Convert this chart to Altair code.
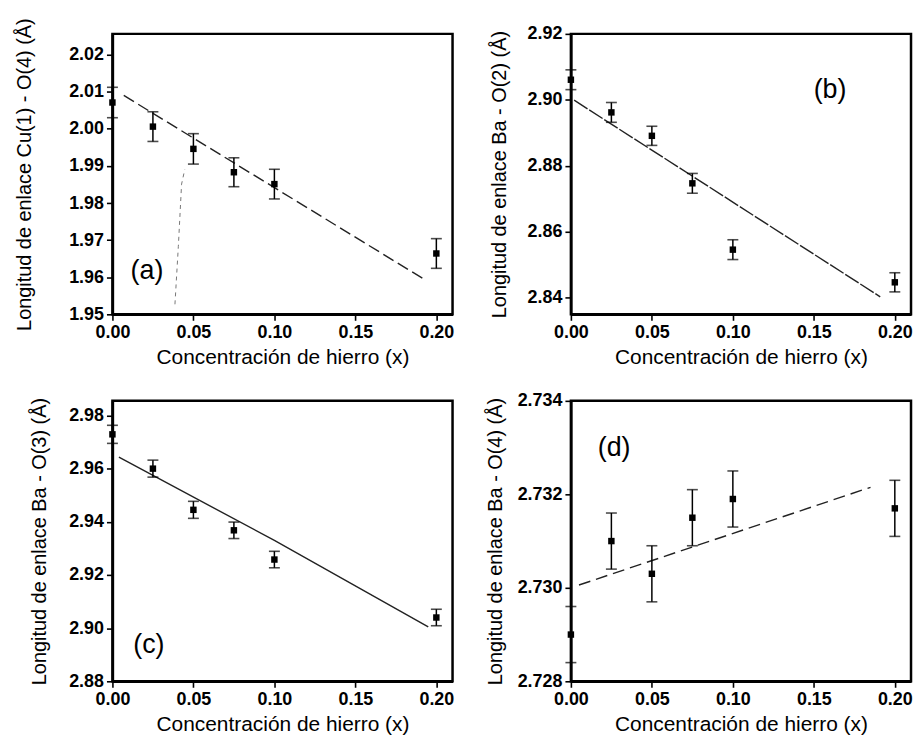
import altair as alt
import pandas as pd

# ---------------- data ----------------
conc = [0.0, 0.025, 0.05, 0.075, 0.1, 0.2]

a_val = [2.0071, 2.0006, 1.9946, 1.9883, 1.9851, 1.9664]
a_err = [0.0041, 0.0040, 0.0041, 0.0039, 0.0040, 0.0040]
b_val = [2.9061, 2.8962, 2.8891, 2.8747, 2.8546, 2.8447]
b_err = [0.0030, 0.0030, 0.0029, 0.0030, 0.0030, 0.0029]
c_val = [2.9729, 2.9600, 2.9445, 2.9368, 2.9258, 2.9040]
c_err = [0.0034, 0.0032, 0.0032, 0.0031, 0.0031, 0.0031]
d_val = [2.7290, 2.7310, 2.7303, 2.7315, 2.7319, 2.7317]
d_err = [0.0006, 0.0006, 0.0006, 0.0006, 0.0006, 0.0006]

a_fit_x = [0.007, 0.193]
a_fit_y = [2.0090, 1.9593]
b_fit_x = [0.002, 0.191]
b_fit_y = [2.8999, 2.8403]
c_fit_x = [0.004, 0.100, 0.195]
c_fit_y = [2.9643, 2.9330, 2.9005]
d_fit_x = [0.005, 0.185]
d_fit_y = [2.73006, 2.73215]

a_art_x = [0.0386, 0.0407, 0.0427, 0.0447]
a_art_y = [1.9527, 1.9683, 1.9851, 1.9891]

x_ticks = [0.0, 0.05, 0.10, 0.15, 0.20]
a_ticks = [1.95, 1.96, 1.97, 1.98, 1.99, 2.00, 2.01, 2.02]
b_ticks = [2.84, 2.86, 2.88, 2.90, 2.92]
c_ticks = [2.88, 2.90, 2.92, 2.94, 2.96, 2.98]
d_ticks = [2.728, 2.730, 2.732, 2.734]

x_title = "Concentración de hierro (x)"
titles = {
    "a": "Longitud de enlace Cu(1) - O(4) (Å)",
    "b": "Longitud de enlace Ba - O(2) (Å)",
    "c": "Longitud de enlace Ba - O(3) (Å)",
    "d": "Longitud de enlace Ba - O(4) (Å)",
}

FONT = "Liberation Sans"
W, H = 342, 282


def panel(key, vals, errs, fit_x, fit_y, ydom, yticks, yfmt, label_pos,
          extent, tpad, dash, art=None):
    df = pd.DataFrame({
        "x": conc, "y": vals,
        "lo": [v - e for v, e in zip(vals, errs)],
        "hi": [v + e for v, e in zip(vals, errs)],
    })
    fit = pd.DataFrame({"x": fit_x, "y": fit_y})
    xs = alt.Scale(domain=[0, 0.21], nice=False, zero=False, padding=0)
    ys = alt.Scale(domain=ydom, nice=False, zero=False, padding=0)
    xax = alt.Axis(values=x_ticks, format=".2f", title=x_title, grid=False,
                   labelOverlap=False, labelFlush=False)
    yax = alt.Axis(values=yticks, format=yfmt, title=titles[key], grid=False,
                   minExtent=extent, maxExtent=extent, titlePadding=tpad,
                   labelOverlap=False, labelFlush=False)
    X = alt.X("x:Q", scale=xs, axis=xax)
    Y = alt.Y("y:Q", scale=ys, axis=yax)
    Xn = alt.X("x:Q", scale=xs)

    layers = []
    line_kw = dict(color="#222", strokeWidth=1.4)
    if dash:
        line_kw["strokeDash"] = dash
    layers.append(alt.Chart(fit).mark_line(**line_kw).encode(
        x=X, y=Y))
    if art is not None:
        adf = pd.DataFrame({"x": art[0], "y": art[1]})
        layers.append(alt.Chart(adf).mark_line(
            color="#777", strokeWidth=1, strokeDash=[4, 4]).encode(
            x=Xn, y=alt.Y("y:Q", scale=ys)))
    base = alt.Chart(df)
    layers.append(base.mark_rule(color="black", strokeWidth=1.5).encode(
        x=Xn, y=alt.Y("lo:Q", scale=ys), y2="hi:Q"))
    layers.append(base.mark_tick(color="black", orient="horizontal",
                                 size=11, thickness=1.6).encode(
        x=Xn, y=alt.Y("lo:Q", scale=ys)))
    layers.append(base.mark_tick(color="black", orient="horizontal",
                                 size=11, thickness=1.6).encode(
        x=Xn, y=alt.Y("hi:Q", scale=ys)))
    layers.append(base.mark_square(color="black", size=42, opacity=1).encode(
        x=Xn, y=alt.Y("y:Q", scale=ys)))
    ldf = pd.DataFrame({"x": [label_pos[0]], "y": [label_pos[1]],
                        "t": ["(" + key + ")"]})
    layers.append(alt.Chart(ldf).mark_text(
        font=FONT, fontSize=27, color="black", align="center",
        baseline="middle").encode(
        x=Xn, y=alt.Y("y:Q", scale=ys), text="t:N"))
    return alt.layer(*layers).properties(width=W, height=H)


pa = panel("a", a_val, a_err, a_fit_x, a_fit_y, [1.95, 2.0256], a_ticks,
           ".2f", (0.0213, 1.9617), 48, 30, [12, 5], art=(a_art_x, a_art_y))
pb = panel("b", b_val, b_err, b_fit_x, b_fit_y, [2.835, 2.92], b_ticks,
           ".2f", (0.160, 2.9030), 50, 12, [16, 2])
pc = panel("c", c_val, c_err, c_fit_x, c_fit_y, [2.88, 2.9855], c_ticks,
           ".2f", (0.0225, 2.8936), 48, 15, None)
pd_ = panel("d", d_val, d_err, d_fit_x, d_fit_y, [2.728, 2.734], d_ticks,
            ".3f", (0.0267, 2.73298), 58, 8, [12, 6])

chart = alt.concat(
    pa, pb, pc, pd_, columns=2,
    spacing={"row": 87, "column": 119},
    bounds="flush",
).properties(
    padding={"left": 5, "top": 6, "right": 0, "bottom": 0},
    background="white",
).configure_view(
    stroke="black", strokeWidth=2.5
).configure_axis(
    domainColor="black", domainWidth=2.5,
    tickColor="black", tickWidth=1.6, tickSize=6,
    labelFont=FONT, labelFontSize=18, labelFontWeight="bold",
    labelColor="black", labelPadding=3,
    titleFont=FONT, titleFontSize=20, titleFontWeight="normal",
    titleColor="black",
).configure_axisX(
    titlePadding=5, titleFontSize=21
)

chart.save("out.html", embed_options={"renderer": "svg", "actions": False})
